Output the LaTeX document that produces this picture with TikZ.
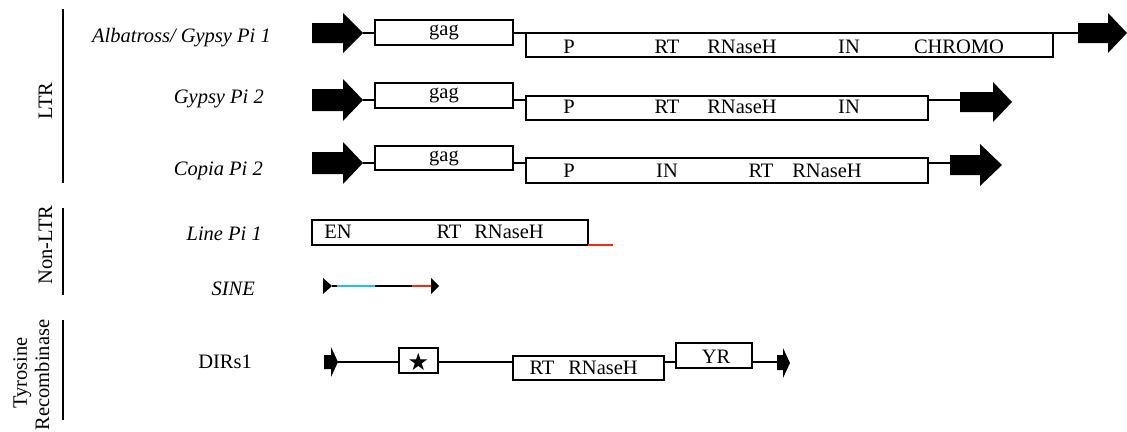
\documentclass[tikz,border=0pt]{standalone}
\usepackage{fontspec}
\setmainfont{Liberation Serif}
\newfontfamily\symbolfont{DejaVu Sans}
\definecolor{seqcyan}{RGB}{30,190,240}
\definecolor{seqred}{RGB}{240,45,20}
\tikzset{
  txt/.style={font=\fontsize{20.5}{24}\selectfont, inner sep=0pt},
  elname/.style={inner sep=0pt, font=\fontsize{20.5}{24}\selectfont\itshape, anchor=base east},
  plainname/.style={inner sep=0pt, font=\fontsize{20.5}{24}\selectfont, anchor=base east},
  grouplabel/.style={txt, rotate=90, anchor=base},
  groupbar/.style={line width=2.2pt},
  genebox/.style={draw, line width=1.3pt, fill=white, inner sep=0pt, outer sep=0pt,
                 anchor=north west, font=\fontsize{20.5}{24}\selectfont},
  dlabel/.style={txt, anchor=base},
  link/.style={line width=1.3pt},
  sineline/.style={line width=2pt},
}
\begin{document}
\begin{tikzpicture}[x=1pt,y=-1pt]
\useasboundingbox (0,0) rectangle (1127,431);

% ---- group bars and group names
\draw[groupbar] (63,9) coordinate (ltrTop) -- (63,183) coordinate (ltrBot);
\draw[groupbar] (63,208) coordinate (nonTop) -- (63,295) coordinate (nonBot);
\draw[groupbar] (63,320) coordinate (tyrTop) -- (63,420) coordinate (tyrBot);
\node[grouplabel] (gLTR) at (52,101) {LTR};
\node[grouplabel] (gNon) at (52,245) {Non-LTR};
\node[grouplabel] (gTyr1) at (27,373) {Tyrosine};
\node[grouplabel] (gTyr2) at (49,375) {Recombinase};

% ---- element names
\node[elname] (nAlb) at (271,42) {Albatross/ Gypsy Pi 1};
\node[elname] (nGyp) at (264,103) {Gypsy Pi 2};
\node[elname] (nCop) at (263,175) {Copia Pi 2};
\node[elname] (nLin) at (262,240) {Line Pi 1};
\node[elname] (nSin) at (255,295) {SINE};
\node[plainname] (nDir) at (252,368) {DIRs1};

% ---- Albatross / Gypsy Pi 1
\fill (312,23) -- (343,23) -- (343,13) -- (363,33) coordinate (tA) -- (343,53) -- (343,43) -- (312,43) -- cycle;
\fill (1078,23) coordinate (eAtop) -- (1108,23) -- (1108,13) -- (1127,33) -- (1108,53) -- (1108,43) -- (1078,43) -- cycle;
\coordinate (eA) at (1078,33);
\node[genebox, minimum width=138, minimum height=25] (gagA) at (375,20) {gag};
\node[genebox, minimum width=527, minimum height=24] (polA) at (526,33) {};
\node[dlabel] (pA1) at (569,53) {P};
\node[dlabel] (pA2) at (667,53) {RT};
\node[dlabel] (pA3) at (742,53) {RNaseH};
\node[dlabel] (pA4) at (849,53) {IN};
\node[dlabel] (pA5) at (959,53) {CHROMO};
\draw[link] (tA) -- (tA -| gagA.west);
\draw[link] (tA -| gagA.east) -- (tA -| polA.west);
\draw[link] (tA -| polA.east) -- (eA);

% ---- Gypsy Pi 2
\fill (312,89) -- (343,89) -- (343,79) -- (363,100) coordinate (tB) -- (343,121) -- (343,111) -- (312,111) -- cycle;
\fill (960,92) -- (993,92) -- (993,82) -- (1012,102) -- (993,122) -- (993,112) -- (960,112) -- cycle;
\coordinate (eB) at (960,100);
\node[genebox, minimum width=138, minimum height=25] (gagB) at (375,83) {gag};
\node[genebox, minimum width=402, minimum height=24] (polB) at (526,96) {};
\node[dlabel] (pB1) at (569,113) {P};
\node[dlabel] (pB2) at (667,113) {RT};
\node[dlabel] (pB3) at (742,113) {RNaseH};
\node[dlabel] (pB4) at (849,113) {IN};
\draw[link] (tB) -- (tB -| gagB.west);
\draw[link] (tB -| gagB.east) -- (tB -| polB.west);
\draw[link] (tB -| polB.east) -- (eB);

% ---- Copia Pi 2
\fill (312,152) -- (343,152) -- (343,142) -- (363,163) coordinate (tC) -- (343,184) -- (343,174) -- (312,174) -- cycle;
\fill (950,155) -- (980,155) -- (980,144) -- (1002,165) -- (980,186) -- (980,175) -- (950,175) -- cycle;
\coordinate (eC) at (950,163);
\node[genebox, minimum width=138, minimum height=24] (gagC) at (375,146) {gag};
\node[genebox, minimum width=402, minimum height=25] (polC) at (526,158) {};
\node[dlabel] (pC1) at (569,177) {P};
\node[dlabel] (pC2) at (667,177) {IN};
\node[dlabel] (pC3) at (761,177) {RT};
\node[dlabel] (pC4) at (827,177) {RNaseH};
\draw[link] (tC) -- (tC -| gagC.west);
\draw[link] (tC -| gagC.east) -- (tC -| polC.west);
\draw[link] (tC -| polC.east) -- (eC);

% ---- Line Pi 1
\node[genebox, minimum width=276, minimum height=25] (orfL) at (312,220) {};
\node[dlabel] (lL1) at (338,238) {EN};
\node[dlabel] (lL2) at (449,238) {RT};
\node[dlabel] (lL3) at (509,238) {RNaseH};
\coordinate (tailL) at (613,245);
\draw[seqred, line width=1.8pt] (orfL.south east) -- (orfL.south east -| tailL);

% ---- SINE
\fill (323,278) -- (332,286) coordinate (sA) -- (323,294) -- cycle;
\fill (431,278) coordinate (sTop) -- (439,286) -- (431,294) -- cycle;
\coordinate (sB) at (337,286);
\coordinate (sC) at (375,286);
\coordinate (sD) at (412,286);
\coordinate (sE) at (431,286);
\draw[sineline] (sA) -- (sB);
\draw[sineline, seqcyan] (sB) -- (sC);
\draw[sineline] (sC) -- (sD);
\draw[sineline, seqred] (sD) -- (sE);

% ---- DIRs1
\fill (324,355) -- (331,355) -- (331,347) -- (338,362) coordinate (tD) -- (331,377) -- (331,369) -- (324,369) -- cycle;
\fill (777,355) coordinate (eDtop) -- (783,355) -- (783,348) -- (790,363) -- (783,378) -- (783,370) -- (777,370) -- cycle;
\coordinate (eD) at (777,362);
\node[genebox, minimum width=39, minimum height=25] (starD) at (399,348) {};
\node[inner sep=0pt, font=\symbolfont\fontsize{24}{28}\selectfont] (starG) at ([yshift=-1pt]starD.center) {★};
\node[genebox, minimum width=151, minimum height=24] (rtD) at (513,356) {};
\node[dlabel] (lD1) at (542,374) {RT};
\node[dlabel] (lD2) at (603,374) {RNaseH};
\node[genebox, minimum width=76, minimum height=25] (yrD) at (676,343) {};
\node[dlabel] (lD3) at (716,363) {YR};
\draw[link] (tD) -- (tD -| starD.west);
\draw[link] (tD -| starD.east) -- (tD -| rtD.west);
\draw[link] (tD -| rtD.east) -- (tD -| yrD.west);
\draw[link] (tD -| yrD.east) -- (eD);
\end{tikzpicture}
\end{document}
